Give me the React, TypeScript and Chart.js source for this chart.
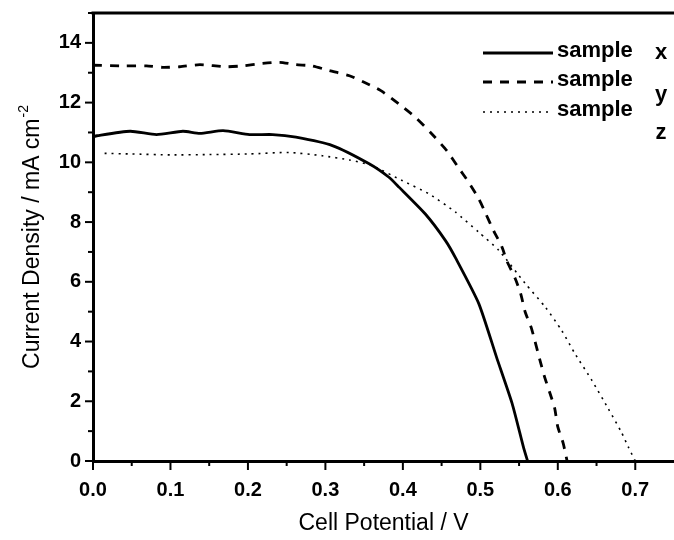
import React, { useEffect, useRef } from "react";
import { Chart, registerables } from "chart.js";

Chart.register(...registerables);

// ---- data ----
const potentialX = [0, 0.005, 0.048, 0.082, 0.116, 0.138, 0.168, 0.202, 0.232, 0.262, 0.309, 0.3565, 0.382, 0.395, 0.429, 0.455, 0.468, 0.498, 0.521, 0.541, 0.556, 0.561];
const currentX = [10.85, 10.89, 11.04, 10.93, 11.04, 10.97, 11.06, 10.93, 10.93, 10.84, 10.56, 9.95, 9.5, 9.17, 8.27, 7.38, 6.8, 5.27, 3.47, 1.93, 0.43, 0];

const potentialY = [0, 0.039, 0.069, 0.09, 0.112, 0.138, 0.172, 0.193, 0.219, 0.241, 0.262, 0.283, 0.305, 0.331, 0.35, 0.3716, 0.395, 0.4166, 0.4375, 0.457, 0.47, 0.485, 0.498, 0.507, 0.517, 0.528, 0.534, 0.545, 0.552, 0.558, 0.566, 0.577, 0.583, 0.59, 0.596, 0.6, 0.607, 0.612];
const currentY = [13.25, 13.23, 13.23, 13.18, 13.2, 13.27, 13.2, 13.23, 13.31, 13.35, 13.27, 13.23, 13.07, 12.9, 12.68, 12.4, 11.95, 11.5, 10.95, 10.38, 9.89, 9.33, 8.78, 8.28, 7.72, 7.16, 6.71, 6.11, 5.61, 4.98, 4.44, 3.37, 2.81, 2.26, 1.76, 1.14, 0.59, 0];

const potentialZ = [0.015, 0.05, 0.1, 0.15, 0.202, 0.253, 0.296, 0.331, 0.36, 0.399, 0.434, 0.468, 0.498, 0.524, 0.558, 0.584, 0.605, 0.622, 0.644, 0.665, 0.682, 0.691, 0.7];
const currentZ = [10.3, 10.28, 10.25, 10.26, 10.28, 10.33, 10.22, 10.08, 9.89, 9.39, 8.94, 8.33, 7.66, 7.05, 5.94, 5.15, 4.37, 3.6, 2.7, 1.76, 0.97, 0.47, 0];

const seriesNames = ["sample", "sample", "sample"];
const seriesTags = ["x", "y", "z"];

const xTitle = "Cell Potential / V";
const yTitleMain = "Current Density / mA cm";
const yTitleSup = "-2";

const FONT = "'Liberation Sans', Arial, Helvetica, sans-serif";

export default function App() {
  const ref = useRef<HTMLCanvasElement>(null);

  useEffect(() => {
    if (!ref.current) return;
    const toPts = (v: number[], c: number[]) => v.map((x, k) => ({ x, y: c[k] }));

    const isMajorX = (v: number) => Math.round(v * 100) % 10 === 0;
    const isMajorY = (v: number) => Math.round(v) % 2 === 0;

    const framePlugin = {
      id: "frame",
      afterDraw(chart: any) {
        const { ctx, chartArea: a, scales } = chart;
        const xs = scales.x;
        const ys = scales.y;
        ctx.save();
        ctx.strokeStyle = "#000";
        ctx.fillStyle = "#000";
        // top frame line
        ctx.lineWidth = 3;
        ctx.beginPath();
        ctx.moveTo(a.left - 1.5, a.top);
        ctx.lineTo(a.right, a.top);
        ctx.stroke();
        // ticks
        ctx.lineWidth = 2;
        xs.ticks.forEach((t: any) => {
          const px = xs.getPixelForValue(t.value);
          if (px > a.right - 2) return;
          ctx.beginPath();
          ctx.moveTo(px, a.bottom);
          ctx.lineTo(px, a.bottom + (isMajorX(t.value) ? 9 : 5));
          ctx.stroke();
        });
        ys.ticks.forEach((t: any) => {
          const py = ys.getPixelForValue(t.value);
          ctx.beginPath();
          ctx.moveTo(a.left, py);
          ctx.lineTo(a.left - (isMajorY(t.value) ? 8 : 5), py);
          ctx.stroke();
        });

        // y axis title with superscript
        ctx.save();
        const cx = 33;
        const cy = (a.top + a.bottom) / 2;
        ctx.translate(cx, cy);
        ctx.rotate(-Math.PI / 2);
        ctx.font = `23px ${FONT}`;
        const w1 = ctx.measureText(yTitleMain).width;
        ctx.font = `14px ${FONT}`;
        const w2 = ctx.measureText(yTitleSup).width;
        const total = w1 + w2 + 1;
        ctx.textBaseline = "middle";
        ctx.textAlign = "left";
        ctx.font = `23px ${FONT}`;
        ctx.fillText(yTitleMain, -total / 2, 0);
        ctx.font = `14px ${FONT}`;
        ctx.fillText(yTitleSup, -total / 2 + w1 + 1, -9);
        ctx.restore();

        // legend
        const rowsY = [53, 82, 112];
        const tagY = [55, 97, 135];
        chart.data.datasets.forEach((ds: any, i: number) => {
          ctx.save();
          ctx.strokeStyle = ds.borderColor;
          ctx.lineWidth = ds.borderWidth;
          ctx.setLineDash(ds.borderDash || []);
          ctx.beginPath();
          ctx.moveTo(483, rowsY[i]);
          ctx.lineTo(553, rowsY[i]);
          ctx.stroke();
          ctx.restore();
          ctx.font = `bold 22px ${FONT}`;
          ctx.textBaseline = "middle";
          ctx.textAlign = "left";
          ctx.fillText(seriesNames[i], 557, rowsY[i] - 2);
          ctx.textAlign = "center";
          ctx.fillText(seriesTags[i], 661, tagY[i] - 2);
        });
        ctx.restore();
      },
    };

    const tickFont = { family: FONT, size: 20, weight: "bold" as const };

    const chart = new Chart(ref.current, {
      type: "line",
      data: {
        datasets: [
          {
            label: `${seriesNames[0]} ${seriesTags[0]}`,
            data: toPts(potentialX, currentX),
            borderColor: "#000",
            borderWidth: 2.8,
            pointRadius: 0,
            tension: 0.2,
          },
          {
            label: `${seriesNames[1]} ${seriesTags[1]}`,
            data: toPts(potentialY, currentY),
            borderColor: "#000",
            borderWidth: 2.8,
            borderDash: [9, 8],
            pointRadius: 0,
            tension: 0.2,
          },
          {
            label: `${seriesNames[2]} ${seriesTags[2]}`,
            data: toPts(potentialZ, currentZ),
            borderColor: "#000",
            borderWidth: 1.6,
            borderDash: [2, 5],
            pointRadius: 0,
            tension: 0.2,
          },
        ],
      },
      options: {
        responsive: false,
        animation: false,
        layout: { autoPadding: false, padding: { top: 13, right: 0, left: 0, bottom: 0 } },
        plugins: {
          legend: { display: false },
          tooltip: { enabled: false },
        },
        scales: {
          x: {
            type: "linear",
            min: 0,
            max: 0.75,
            afterFit(s: any) {
              s.height = 79;
              s.paddingLeft = 0;
              s.paddingRight = 0;
            },
            ticks: {
              stepSize: 0.05,
              autoSkip: false,
              maxRotation: 0,
              padding: 8,
              color: "#000",
              font: tickFont,
              callback: (v: any) => {
                const r = Math.round(Number(v) * 100);
                return r % 10 === 0 ? (r / 100).toFixed(1) : "";
              },
            },
            grid: { drawOnChartArea: false, tickLength: 9, tickColor: "rgba(0,0,0,0)" },
            border: { color: "#000", width: 3 },
            title: {
              display: true,
              text: xTitle,
              color: "#000",
              font: { family: FONT, size: 23 },
              padding: { top: 3, bottom: 3 },
            },
          },
          y: {
            type: "linear",
            min: 0,
            max: 15,
            afterFit(s: any) {
              s.width = 93;
              s.paddingTop = 0;
              s.paddingBottom = 0;
            },
            ticks: {
              stepSize: 1,
              autoSkip: false,
              padding: 4,
              color: "#000",
              font: tickFont,
              callback: (v: any) => (Math.round(Number(v)) % 2 === 0 ? String(v) : ""),
            },
            grid: { drawOnChartArea: false, tickLength: 8, tickColor: "rgba(0,0,0,0)" },
            border: { color: "#000", width: 3 },
          },
        },
      },
      plugins: [framePlugin],
    });

    return () => chart.destroy();
  }, []);

  return (
    <div style={{ position: "absolute", left: 0, top: 0, width: 674, height: 540, background: "#fff" }}>
      <canvas ref={ref} width={674} height={540} style={{ display: "block" }} />
    </div>
  );
}
